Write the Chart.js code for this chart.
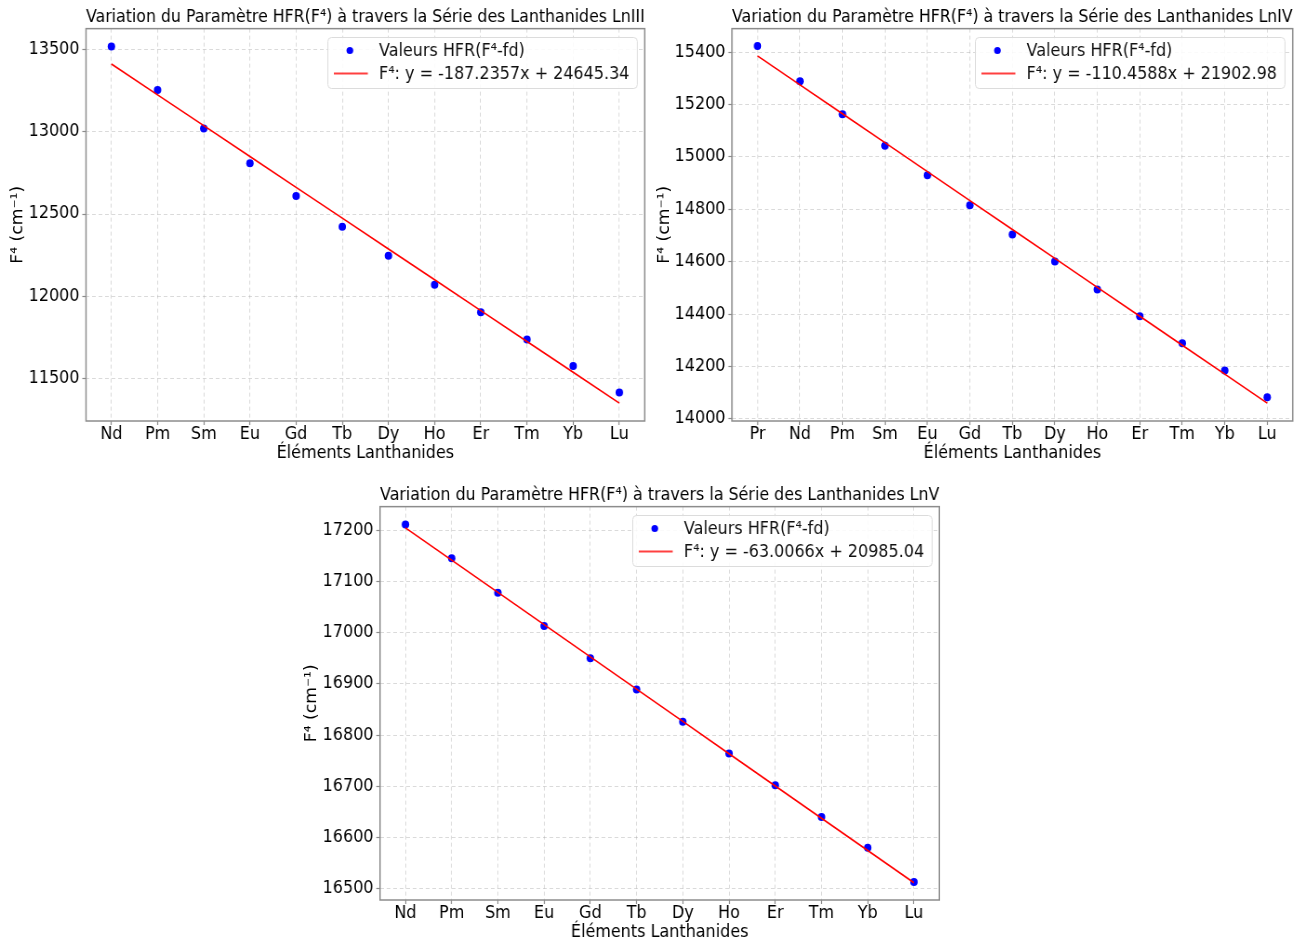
<!DOCTYPE html>
<html lang="fr">
<head>
<meta charset="utf-8">
<title>HFR F4 Lanthanides</title>
<script src="https://cdn.jsdelivr.net/npm/chart.js@4.4.1/dist/chart.umd.min.js"></script>
<style>
  html, body { margin: 0; padding: 0; background: #fff; width: 1310px; height: 939px; overflow: hidden; }
  /* the source figure is slightly squeezed horizontally */
  canvas { position: absolute; display: block; transform-origin: 0 0; transform: scaleX(0.93); }
</style>
</head>
<body>
<canvas id="chartLnIII" width="704" height="470" style="left:0;top:0"></canvas>
<canvas id="chartLnIV" width="704" height="470" style="left:655px;top:0"></canvas>
<canvas id="chartLnV" width="709" height="471" style="left:290px;top:478px"></canvas>
<script>
const SX = 0.93;

// LnIII
const elementsLnIII = ['Nd', 'Pm', 'Sm', 'Eu', 'Gd', 'Tb', 'Dy', 'Ho', 'Er', 'Tm', 'Yb', 'Lu'];
const hfrLnIII = [13518, 13254, 13020, 12809, 12610, 12423, 12246, 12070, 11903, 11738, 11577, 11416];
const fitLnIII = [13411.2, 13224.0, 13036.7, 12849.5, 12662.3, 12475.0, 12287.8, 12100.6, 11913.3, 11726.1, 11538.9, 11351.6];
const yTicksLnIII = [11500, 12000, 12500, 13000, 13500];

// LnIV
const elementsLnIV = ['Pr', 'Nd', 'Pm', 'Sm', 'Eu', 'Gd', 'Tb', 'Dy', 'Ho', 'Er', 'Tm', 'Yb', 'Lu'];
const hfrLnIV = [15424, 15289, 15163, 15043, 14930, 14816, 14704, 14601, 14494, 14392, 14289, 14185, 14083];
const fitLnIV = [15385.9, 15275.5, 15165.0, 15054.6, 14944.1, 14833.6, 14723.2, 14612.7, 14502.3, 14391.8, 14281.4, 14170.9, 14060.4];
const yTicksLnIV = [14000, 14200, 14400, 14600, 14800, 15000, 15200, 15400];

// LnV
const elementsLnV = ['Nd', 'Pm', 'Sm', 'Eu', 'Gd', 'Tb', 'Dy', 'Ho', 'Er', 'Tm', 'Yb', 'Lu'];
const hfrLnV = [17211, 17145, 17078, 17013, 16950, 16889, 16826, 16764, 16702, 16640, 16580, 16513];
const fitLnV = [17204.6, 17141.6, 17078.6, 17015.6, 16952.6, 16889.6, 16826.6, 16763.6, 16700.6, 16637.6, 16574.6, 16511.6];
const yTicksLnV = [16500, 16600, 16700, 16800, 16900, 17000, 17100, 17200];

const FONT = { family: '"DejaVu Sans", sans-serif', size: 17.2, weight: 'normal' };
const GRID = {
  color: 'rgba(150,150,150,0.45)',
  lineWidth: 0.8,
  drawTicks: true,
  tickLength: 4,
  tickColor: '#8c8c8c',
  tickBorderDash: [],
  tickWidth: 1.2,
};
const BORDER = { display: false, dash: [4, 3] };

// frame around the plot area + matplotlib style legend box
const frameAndLegend = {
  id: 'frameAndLegend',
  afterDraw(chart) {
    const { ctx, chartArea } = chart;
    ctx.save();
    ctx.strokeStyle = '#8c8c8c';
    ctx.lineWidth = 1.5;
    ctx.strokeRect(chartArea.left, chartArea.top, chartArea.right - chartArea.left, chartArea.bottom - chartArea.top);

    const datasets = chart.data.datasets;
    ctx.font = '17.2px "DejaVu Sans", sans-serif';
    const textW = Math.max(...datasets.map((d) => ctx.measureText(d.label).width));
    const w = 55 + textW + 8.6;
    const h = 51;
    const x0 = Math.round(chartArea.right - 8.6 - w) + 0.5;
    const y0 = Math.round(chartArea.top + 8) + 0.5;
    ctx.beginPath();
    ctx.roundRect(x0, y0, w, h, 4);
    ctx.fillStyle = 'rgba(255,255,255,0.85)';
    ctx.fill();
    ctx.strokeStyle = '#dcdcdc';
    ctx.lineWidth = 1;
    ctx.stroke();

    datasets.forEach((d, i) => {
      const cy = y0 + 13 + i * 23;
      if (d.showLine) {
        ctx.strokeStyle = 'rgba(255,0,0,0.75)';
        ctx.lineWidth = 2;
        ctx.beginPath();
        ctx.moveTo(x0 + 6.5, cy);
        ctx.lineTo(x0 + 43, cy);
        ctx.stroke();
      } else {
        ctx.fillStyle = d.backgroundColor;
        ctx.beginPath();
        ctx.arc(x0 + 23.7, cy, 3.6, 0, Math.PI * 2);
        ctx.fill();
      }
      ctx.fillStyle = '#111';
      ctx.textAlign = 'left';
      ctx.textBaseline = 'middle';
      ctx.fillText(d.label, x0 + 55, cy + 1);
    });
    ctx.restore();
  },
};

function makeChart(canvasId, title, labels, values, fit, yTicks, yMin, yMax, equation, yAxisWidth, rightPad, yTitleGap) {
  const margin = (labels.length - 1) * 0.05;
  return new Chart(document.getElementById(canvasId), {
    type: 'scatter',
    data: {
      datasets: [
        {
          label: 'Valeurs HFR(F⁴-fd)',
          data: values.map((v, i) => ({ x: i, y: v })),
          backgroundColor: '#0000ff',
          borderColor: '#0000ff',
          pointRadius: 4,
          pointBorderWidth: 0,
          showLine: false,
          order: 1,
        },
        {
          type: 'line',
          label: equation,
          data: fit.map((v, i) => ({ x: i, y: v })),
          borderColor: '#ff0000',
          borderWidth: 1.6,
          pointRadius: 0,
          showLine: true,
          fill: false,
          tension: 0,
          order: 0,
        },
      ],
    },
    options: {
      responsive: false,
      animation: false,
      layout: { padding: { left: 0, right: rightPad / SX, top: 0, bottom: 0 } },
      plugins: {
        legend: { display: false },
        tooltip: { enabled: false },
        title: {
          display: true,
          text: title,
          fullSize: false,
          color: '#000',
          font: FONT,
          padding: { top: 7.7, bottom: 0.3 },
        },
      },
      scales: {
        x: {
          type: 'linear',
          min: -margin,
          max: labels.length - 1 + margin,
          afterBuildTicks: (scale) => { scale.ticks = labels.map((_, i) => ({ value: i })); },
          afterFit: (scale) => { scale.height = 49; },
          ticks: {
            autoSkip: false,
            maxRotation: 0,
            minRotation: 0,
            padding: -1,
            color: '#000',
            font: FONT,
            callback: (value) => labels[value],
          },
          grid: GRID,
          border: BORDER,
          title: {
            display: true,
            text: 'Éléments Lanthanides',
            color: '#000',
            font: FONT,
            padding: { top: 0, bottom: 5.8 },
          },
        },
        y: {
          type: 'linear',
          min: yMin,
          max: yMax,
          afterBuildTicks: (scale) => { scale.ticks = yTicks.map((v) => ({ value: v })); },
          afterFit: (scale) => { scale.width = yAxisWidth / SX; },
          ticks: {
            padding: 3,
            color: '#000',
            font: FONT,
            callback: (value) => String(value),
          },
          grid: GRID,
          border: BORDER,
          title: {
            display: true,
            text: 'F⁴ (cm⁻¹)',
            color: '#000',
            font: FONT,
            padding: { top: yTitleGap, bottom: 0 },
          },
        },
      },
    },
    plugins: [frameAndLegend],
  });
}

makeChart('chartLnIII', 'Variation du Paramètre HFR(F⁴) à travers la Série des Lanthanides LnIII',
  elementsLnIII, hfrLnIII, fitLnIII, yTicksLnIII, 11243, 13626, 'F⁴: y = -187.2357x + 24645.34', 86, 10, 9.5);
makeChart('chartLnIV', 'Variation du Paramètre HFR(F⁴) à travers la Série des Lanthanides LnIV',
  elementsLnIV, hfrLnIV, fitLnIV, yTicksLnIV, 13992, 15490, 'F⁴: y = -110.4588x + 21902.98', 77, 17, 0.5);
makeChart('chartLnV', 'Variation du Paramètre HFR(F⁴) à travers la Série des Lanthanides LnV',
  elementsLnV, hfrLnV, fitLnV, yTicksLnV, 16478, 17246, 'F⁴: y = -63.0066x + 20985.04', 90, 10, 13.4);
</script>
</body>
</html>
